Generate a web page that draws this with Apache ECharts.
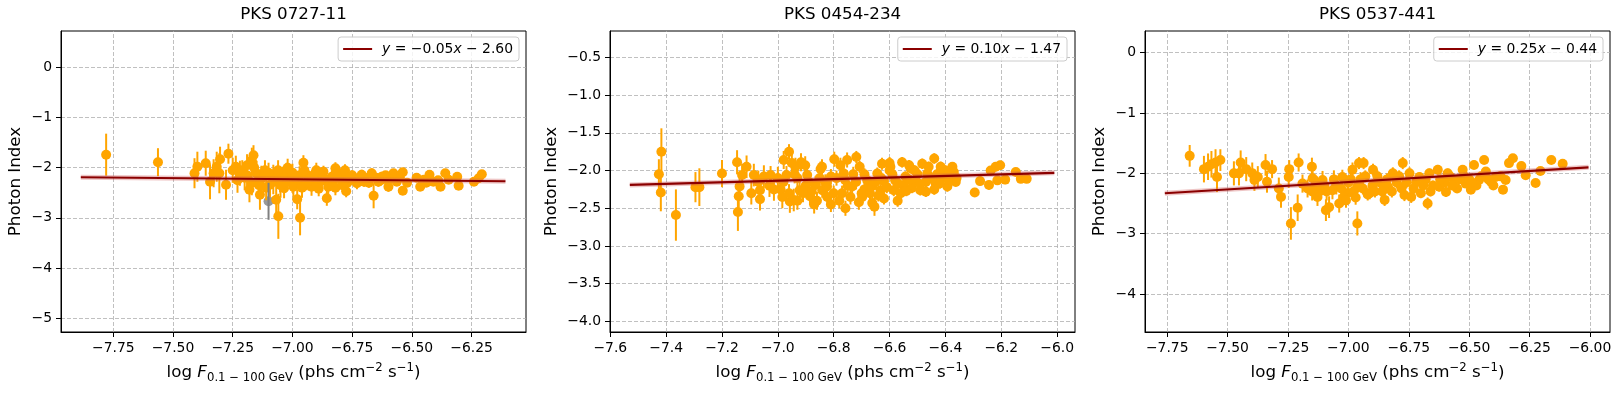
<!DOCTYPE html>
<html>
<head>
<meta charset="utf-8">
<title>Photon Index vs Flux</title>
<script src="https://cdn.jsdelivr.net/npm/echarts@6/dist/echarts.min.js"></script>
<style>
  html, body { margin: 0; padding: 0; background: #fff; }
  #chart { width: 1622px; height: 394px; }
</style>
</head>
<body>
<div id="chart"></div>
<script>
// panel titles
var sources = ['PKS 0727-11', 'PKS 0454-234', 'PKS 0537-441'];

// points: [log flux, photon index, error]
var pts0727 = [
  [-7.78,-1.74,0.42],[-7.563,-1.89,0.28],[-7.41,-2.11,0.3],[-7.398,-1.98,0.3],[-7.363,-1.91,0.25],
  [-7.345,-2.28,0.35],[-7.33,-2.11,0.28],[-7.317,-1.98,0.3],[-7.303,-1.83,0.25],[-7.306,-2.11,0.4],
  [-7.278,-2.34,0.3],[-7.268,-1.72,0.2],[-7.237,-1.98,0.22],[-7.22,-2.11,0.25],[-7.21,-2.05,0.2],
  [-7.19,-1.95,0.22],[-7.18,-2.44,0.25],[-7.17,-1.85,0.25],[-7.163,-1.75,0.2],[-7.15,-2.11,0.25],
  [-7.136,-2.54,0.3],[-7.13,-2.21,0.25],[-7.115,-2.05,0.2],[-7.094,-2.34,0.25],[-7.08,-2.14,0.2],
  [-7.068,-2.64,0.35],[-7.059,-2.97,0.45],[-7.052,-2.24,0.25],[-7.035,-2.41,0.2],[-7.024,-2.08,0.18],
  [-7.01,-2.21,0.2],[-6.996,-2.38,0.2],[-6.98,-2.63,0.2],[-6.968,-3.0,0.35],[-6.954,-1.90,0.15],
  [-6.94,-2.14,0.15],[-6.92,-2.24,0.15],[-6.905,-2.11,0.15],[-6.89,-2.31,0.15],[-6.87,-2.08,0.12],
  [-6.856,-2.61,0.15],[-6.85,-2.38,0.18],[-6.835,-2.18,0.12],[-6.82,-2.01,0.12],[-6.803,-2.21,0.12],
  [-6.786,-2.11,0.12],[-6.775,-2.47,0.12],[-6.74,-2.24,0.12],[-6.73,-2.31,0.12],[-6.71,-2.14,0.1],
  [-6.69,-2.21,0.1],[-6.668,-2.11,0.1],[-6.66,-2.56,0.25],[-6.64,-2.28,0.1],[-6.626,-2.18,0.1],
  [-6.598,-2.38,0.1],[-6.577,-2.11,0.08],[-6.563,-2.28,0.08],[-6.538,-2.09,0.08],[-6.538,-2.46,0.08],
  [-6.465,-2.38,0.07],[-6.45,-2.24,0.07],[-6.426,-2.14,0.07],[-6.41,-2.28,0.07],[-6.38,-2.38,0.07],
  [-6.36,-2.11,0.07],[-6.346,-2.24,0.07],[-6.31,-2.18,0.07],[-6.304,-2.36,0.07],[-6.24,-2.28,0.06],
  [-6.22,-2.21,0.06],[-6.207,-2.13,0.06],
  [-7.2,-2.2,0.25],[-7.17,-2.3,0.25],[-7.12,-2.18,0.2],[-7.08,-2.28,0.25],[-7.04,-2.18,0.2],
  [-7.0,-2.1,0.18],[-6.97,-2.28,0.18],[-6.93,-2.22,0.15],[-6.88,-2.15,0.15],[-6.84,-2.3,0.15],
  [-6.8,-2.18,0.12],[-6.77,-2.3,0.12],[-6.97,-2.15,0.18],[-6.9,-2.05,0.15],[-6.82,-2.4,0.15],
  [-7.06,-2.05,0.2],[-7.14,-2.35,0.25],[-6.76,-2.2,0.12],[-6.7,-2.28,0.1],[-6.65,-2.2,0.1],
  [-6.6,-2.25,0.1],[-6.57,-2.2,0.08],[-6.92,-2.38,0.18],[-7.0,-2.3,0.2],[-6.86,-2.25,0.15],
  [-6.95,-2.05,0.15],
  [-7.25,-2.05,0.25],[-7.23,-2.25,0.25],[-7.16,-2.0,0.2],[-7.11,-2.4,0.25],[-7.03,-2.3,0.2],
  [-7.02,-2.0,0.18],[-6.99,-2.2,0.18],[-6.96,-2.4,0.2],[-6.91,-2.15,0.15],[-6.89,-2.42,0.15],
  [-6.87,-2.2,0.15],[-6.83,-2.28,0.12],[-6.81,-2.1,0.12],[-6.79,-2.35,0.12],[-6.78,-2.05,0.12],
  [-6.75,-2.15,0.1],[-6.72,-2.2,0.1],[-6.68,-2.3,0.1],[-6.67,-2.18,0.1],[-6.63,-2.25,0.1],
  [-6.61,-2.15,0.08],[-6.55,-2.2,0.08],[-6.52,-2.3,0.08],[-6.48,-2.2,0.07],[-6.44,-2.3,0.07],
  [-6.39,-2.25,0.07],[-7.05,-2.35,0.25],[-7.1,-2.1,0.2],[-7.19,-2.15,0.25],[-6.94,-2.3,0.15]
];
var gray0727 = [[-7.10,-2.67,0.37]];

var pts0454 = [
  [-7.426,-2.05,0.2],[-7.417,-1.75,0.31],[-7.419,-2.29,0.25],[-7.365,-2.59,0.34],[-7.295,-2.22,0.2],
  [-7.281,-2.22,0.25],[-7.2,-2.04,0.18],[-7.146,-1.89,0.16],[-7.137,-2.21,0.15],[-7.14,-2.34,0.15],
  [-7.143,-2.55,0.25],[-7.128,-2.06,0.15],[-7.112,-1.95,0.15],[-7.095,-2.30,0.15],[-7.086,-2.06,0.15],
  [-7.064,-2.26,0.15],[-7.064,-2.38,0.15],[-7.05,-2.08,0.15],[-7.026,-2.06,0.12],[-7.014,-2.25,0.15],
  [-7.0,-2.1,0.15],[-6.99,-2.25,0.15],[-6.984,-2.35,0.15],[-6.979,-1.86,0.12],[-6.96,-1.75,0.1],
  [-6.969,-2.06,0.12],[-6.957,-2.41,0.15],[-6.943,-2.39,0.15],[-6.937,-1.95,0.12],[-6.922,-2.26,0.12],
  [-6.917,-1.89,0.12],[-6.902,-1.93,0.12],[-6.895,-2.06,0.12],[-6.885,-2.34,0.12],[-6.865,-2.19,0.12],
  [-6.847,-1.98,0.1],[-6.841,-2.26,0.1],[-6.823,-2.35,0.1],[-6.798,-1.85,0.1],[-6.842,-1.95,0.1],
  [-6.824,-2.21,0.1],[-6.776,-1.93,0.1],[-6.764,-2.04,0.1],[-6.752,-1.86,0.1],[-6.758,-2.5,0.1],
  [-6.734,-2.21,0.1],[-6.719,-1.82,0.08],[-6.707,-1.95,0.08],[-6.698,-2.35,0.1],[-6.68,-2.13,0.08],
  [-6.662,-2.43,0.1],[-6.654,-2.48,0.12],[-6.644,-2.04,0.08],[-6.632,-2.26,0.08],[-6.627,-1.91,0.08],
  [-6.62,-2.37,0.08],[-6.597,-1.95,0.08],[-6.585,-2.26,0.08],[-6.571,-2.40,0.08],[-6.555,-1.89,0.07],
  [-6.543,-2.08,0.07],[-6.525,-1.97,0.07],[-6.507,-2.13,0.07],[-6.49,-2.26,0.07],[-6.483,-1.91,0.07],
  [-6.465,-2.04,0.07],[-6.44,-1.84,0.07],[-6.435,-2.17,0.07],[-6.417,-1.95,0.07],[-6.41,-2.08,0.07],
  [-6.393,-2.21,0.07],[-6.375,-1.95,0.06],[-6.363,-2.15,0.06],[-6.295,-2.29,0.06],[-6.276,-2.14,0.06],
  [-6.244,-2.19,0.06],[-6.238,-2.0,0.06],[-6.22,-1.95,0.06],[-6.204,-1.93,0.06],[-6.214,-2.13,0.06],
  [-6.186,-2.12,0.06],[-6.148,-2.02,0.05],[-6.13,-2.11,0.05],[-6.109,-2.11,0.05],
  [-6.6,-2.0,0.08],[-6.55,-2.2,0.07],[-6.5,-2.05,0.07],[-6.47,-2.28,0.07],[-6.45,-2.1,0.07],
  [-6.42,-2.17,0.07],[-6.38,-2.05,0.06],[-6.36,-2.1,0.06],[-6.62,-2.14,0.08],[-6.7,-2.3,0.1],
  [-6.75,-2.2,0.1],[-6.78,-2.4,0.1],[-6.73,-2.05,0.1],[-6.66,-2.2,0.08],[-6.58,-2.13,0.08],
  [-6.52,-2.23,0.07],[-6.8,-2.3,0.1],[-6.86,-2.4,0.12],[-6.9,-2.2,0.12],[-6.93,-2.1,0.12],
  [-6.88,-2.28,0.12],[-6.81,-2.08,0.1],[-6.69,-2.25,0.08],[-6.64,-2.33,0.08],[-6.56,-2.3,0.07],
  [-6.53,-2.12,0.07],[-6.47,-2.15,0.07],[-6.4,-2.0,0.07],
  [-6.98,-2.15,0.12],[-6.96,-2.3,0.12],[-6.94,-2.05,0.12],[-6.91,-2.3,0.12],[-6.89,-2.15,0.12],
  [-6.87,-2.45,0.12],[-6.85,-2.1,0.1],[-6.83,-2.15,0.1],[-6.81,-2.45,0.1],[-6.79,-2.1,0.1],
  [-6.77,-2.3,0.1],[-6.76,-2.12,0.1],[-6.74,-2.35,0.1],[-6.72,-2.15,0.1],[-6.71,-2.42,0.1],
  [-6.69,-2.05,0.08],[-6.67,-2.3,0.08],[-6.65,-2.15,0.08],[-6.63,-2.1,0.08],[-6.61,-2.22,0.08],
  [-6.59,-2.05,0.08],[-6.57,-2.17,0.08],[-6.54,-2.27,0.07],[-6.51,-2.0,0.07],[-6.49,-2.18,0.07],
  [-6.46,-1.95,0.07],[-6.44,-2.25,0.07],[-6.43,-2.05,0.07],[-6.39,-2.12,0.07],[-6.37,-2.02,0.06],
  [-6.6,-1.9,0.08],[-6.53,-1.93,0.07],[-7.03,-2.2,0.15],[-7.07,-2.15,0.15],[-6.93,-2.4,0.12],
  [-6.95,-1.9,0.12]
];

var pts0537 = [
  [-7.657,-1.71,0.18],[-7.598,-1.93,0.22],[-7.581,-1.89,0.22],[-7.567,-1.85,0.22],[-7.55,-1.82,0.22],
  [-7.544,-2.06,0.25],[-7.53,-1.78,0.18],[-7.474,-2.0,0.2],[-7.453,-2.0,0.2],[-7.446,-1.82,0.2],
  [-7.423,-1.93,0.2],[-7.398,-2.0,0.18],[-7.389,-2.11,0.18],[-7.375,-2.06,0.18],[-7.343,-1.86,0.18],
  [-7.337,-2.14,0.18],[-7.316,-1.93,0.15],[-7.288,-2.25,0.18],[-7.279,-2.39,0.18],[-7.247,-2.06,0.18],
  [-7.245,-1.93,0.15],[-7.238,-2.83,0.27],[-7.21,-2.57,0.22],[-7.206,-1.82,0.15],[-7.19,-2.17,0.15],
  [-7.169,-2.25,0.15],[-7.151,-1.89,0.15],[-7.148,-2.08,0.15],[-7.128,-2.39,0.15],[-7.107,-2.11,0.15],
  [-7.093,-2.61,0.18],[-7.08,-2.56,0.18],[-7.066,-2.28,0.15],[-7.038,-2.5,0.15],[-7.025,-2.06,0.12],
  [-7.004,-2.33,0.12],[-6.983,-1.94,0.12],[-6.963,-2.83,0.2],[-6.956,-1.83,0.1],[-6.937,-1.83,0.1],
  [-6.898,-1.94,0.1],[-6.912,-2.33,0.1],[-6.85,-2.44,0.1],[-6.837,-2.22,0.1],[-6.816,-2.0,0.1],
  [-6.775,-1.83,0.1],[-6.768,-2.36,0.1],[-6.74,-2.39,0.1],[-6.747,-2.0,0.1],[-6.706,-2.06,0.08],
  [-6.7,-2.33,0.08],[-6.672,-2.5,0.1],[-6.665,-2.0,0.08],[-6.63,-1.94,0.08],[-6.624,-2.22,0.08],
  [-6.596,-2.31,0.08],[-6.589,-2.0,0.08],[-6.562,-2.11,0.07],[-6.527,-1.94,0.07],[-6.514,-2.17,0.07],
  [-6.493,-2.27,0.07],[-6.48,-1.86,0.07],[-6.459,-2.11,0.07],[-6.438,-1.78,0.06],[-6.431,-1.97,0.06],
  [-6.41,-2.14,0.06],[-6.39,-2.06,0.06],[-6.36,-2.27,0.06],[-6.349,-2.11,0.06],[-6.335,-1.83,0.06],
  [-6.319,-1.75,0.06],[-6.284,-1.88,0.05],[-6.266,-2.03,0.05],[-6.225,-2.16,0.05],[-6.205,-1.96,0.05],
  [-6.16,-1.78,0.05],[-6.113,-1.84,0.05],
  [-7.05,-2.2,0.15],[-7.0,-2.15,0.12],[-6.98,-2.3,0.12],[-6.95,-2.1,0.12],[-6.9,-2.2,0.1],
  [-6.88,-2.05,0.1],[-6.8,-2.15,0.1],[-6.78,-2.25,0.1],[-6.72,-2.15,0.08],[-6.68,-2.1,0.08],
  [-6.65,-2.2,0.08],[-6.6,-2.15,0.08],[-6.55,-2.25,0.07],[-6.52,-2.05,0.07],[-6.47,-2.2,0.07],
  [-6.42,-2.1,0.06],[-7.12,-2.3,0.15],[-7.02,-2.4,0.12],[-6.92,-2.35,0.1],[-6.86,-2.3,0.1],
  [-7.1,-2.2,0.15],[-6.96,-2.2,0.12],[-6.84,-2.1,0.1],[-6.58,-2.05,0.07],[-6.5,-2.1,0.07],
  [-7.15,-2.3,0.15],[-7.13,-2.2,0.15],[-7.09,-2.3,0.15],[-7.06,-2.1,0.15],[-7.03,-2.25,0.12],
  [-7.01,-2.45,0.12],[-6.99,-2.1,0.12],[-6.97,-2.4,0.12],[-6.94,-2.25,0.1],[-6.93,-2.05,0.1],
  [-6.89,-2.3,0.1],[-6.87,-2.15,0.1],[-6.82,-2.3,0.1],[-6.79,-2.05,0.1],[-6.76,-2.15,0.1],
  [-6.73,-2.25,0.08],[-6.69,-2.2,0.08],[-6.66,-2.3,0.08],[-6.62,-2.1,0.08],[-6.57,-2.2,0.07],
  [-6.54,-2.1,0.07],[-6.49,-2.15,0.07],[-6.45,-2.05,0.06],[-6.4,-2.2,0.06],[-6.37,-2.05,0.06]
];

// linear fits, end points
var fit0727 = [[-7.886,-2.19],[-6.108,-2.27]];
var fit0454 = [[-7.53,-2.19],[-6.01,-2.03]];
var fit0537 = [[-7.76,-2.33],[-6.006,-1.90]];
var fitLabels = ['y = −0.05x − 2.60', 'y = 0.10x − 1.47', 'y = 0.25x − 0.44'];

// axes
var xRanges = [[-7.969,-6.022],[-7.601,-5.936],[-7.842,-5.917]];
var yRanges = [[-5.28,0.73],[-4.14,-0.15],[-4.63,0.36]];
var xTicks = [
  [-7.75,-7.5,-7.25,-7.0,-6.75,-6.5,-6.25],
  [-7.6,-7.4,-7.2,-7.0,-6.8,-6.6,-6.4,-6.2,-6.0],
  [-7.75,-7.5,-7.25,-7.0,-6.75,-6.5,-6.25,-6.0]
];
var yTicks = [
  [0,-1,-2,-3,-4,-5],
  [-0.5,-1.0,-1.5,-2.0,-2.5,-3.0,-3.5,-4.0],
  [0,-1,-2,-3,-4]
];
var xDec = [2, 1, 2];
var yDec = [0, 1, 0];

var allPts = [pts0727, pts0454, pts0537];
var allFits = [fit0727, fit0454, fit0537];

// layout
var gridLeft = [61, 610, 1145];
var gridW = 465;
var legendRight = [1103, 555, 19];
var yNameGap = [37, 50, 37];

var FONT = 'DejaVu Sans';
var ORANGE = '#FFA500';

function fmt(v, d) {
  if (v === 0) return '0';
  return (v < 0 ? '\u2212' : '') + Math.abs(v).toFixed(d);
}

function errBar(color) {
  return function (params, api) {
    var x = api.value(0), y = api.value(1), e = api.value(2);
    var p1 = api.coord([x, y + e]);
    var p2 = api.coord([x, y - e]);
    return {
      type: 'line',
      shape: { x1: p1[0], y1: p1[1], x2: p2[0], y2: p2[1] },
      style: { stroke: color, lineWidth: 2 }
    };
  };
}

var option = {
  animation: false,
  backgroundColor: '#fff',
  title: [], grid: [], xAxis: [], yAxis: [], legend: [], series: []
};

for (let i = 0; i < 3; i++) {
  option.title.push({
    text: sources[i],
    left: gridLeft[i] + gridW / 2,
    textAlign: 'center',
    top: 6,
    padding: 0,
    textStyle: { fontFamily: FONT, fontSize: 16.7, fontWeight: 'normal', color: '#000' }
  });
  option.grid.push({
    left: gridLeft[i], top: 31, width: gridW, height: 301,
    show: true, borderColor: '#000', borderWidth: 1, backgroundColor: 'transparent'
  });
  option.xAxis.push({
    type: 'value', gridIndex: i, min: xRanges[i][0], max: xRanges[i][1],
    name: '{n|log }{it|F}{sub|0.1 \u2212 100 GeV}{n| (phs cm}{sup|\u22122}{n| s}{sup|\u22121}{n|)}',
    nameLocation: 'middle', nameGap: 30,
    nameTextStyle: {
      fontFamily: FONT, fontSize: 16.7, color: '#000',
      rich: {
        n: { fontFamily: FONT, fontSize: 16.7, lineHeight: 22, color: '#000' },
        it: { fontFamily: FONT, fontSize: 16.7, fontStyle: 'italic', lineHeight: 22, color: '#000' },
        sub: { fontFamily: FONT, fontSize: 11.7, lineHeight: 12, verticalAlign: 'bottom', color: '#000' },
        sup: { fontFamily: FONT, fontSize: 11.7, lineHeight: 12, verticalAlign: 'top', color: '#000' }
      }
    },
    axisLine: { show: true, onZero: false, lineStyle: { color: '#000', width: 1 } },
    axisTick: { show: true, length: 5, customValues: xTicks[i], lineStyle: { color: '#000' } },
    axisLabel: {
      customValues: xTicks[i], margin: 9, fontFamily: FONT, fontSize: 13.9, color: '#000',
      formatter: (function (d) { return function (v) { return fmt(v, d); }; })(xDec[i])
    },
    splitLine: { show: false }
  });
  option.yAxis.push({
    type: 'value', gridIndex: i, min: yRanges[i][0], max: yRanges[i][1],
    name: 'Photon Index', nameLocation: 'middle', nameRotate: 90, nameGap: yNameGap[i],
    nameTextStyle: { fontFamily: FONT, fontSize: 16.7, color: '#000' },
    axisLine: { show: true, onZero: false, lineStyle: { color: '#000', width: 1 } },
    axisTick: { show: true, length: 5, customValues: yTicks[i], lineStyle: { color: '#000' } },
    axisLabel: {
      customValues: yTicks[i], margin: 9, fontFamily: FONT, fontSize: 13.9, color: '#000',
      formatter: (function (d) { return function (v) { return fmt(v, d); }; })(yDec[i])
    },
    splitLine: { show: false }
  });
  option.legend.push({
    data: [fitLabels[i]],
    right: legendRight[i], top: 37,
    icon: 'rect', itemWidth: 29, itemHeight: 2,
    padding: [5, 6, 5, 5],
    backgroundColor: 'rgba(255,255,255,0.8)',
    borderColor: '#cccccc', borderWidth: 1, borderRadius: 3,
    selectedMode: false,
    formatter: function (name) { return name.replace(/([xy])/g, '{i|$1}'); },
    textStyle: {
      fontFamily: FONT, fontSize: 13.9, color: '#000', padding: [0, 0, 0, 5],
      rich: { i: { fontFamily: FONT, fontSize: 13.9, fontStyle: 'italic', color: '#000' } }
    }
  });

  // dashed grid lines
  option.series.push({
    type: 'line', xAxisIndex: i, yAxisIndex: i, data: [], silent: true, z: 0,
    markLine: {
      silent: true, symbol: 'none', z: 0, animation: false,
      label: { show: false },
      lineStyle: { color: '#b0b0b0', width: 0.8, type: [4, 2] },
      emphasis: { disabled: true },
      data: xTicks[i].map(function (v) { return { xAxis: v }; })
        .concat(yTicks[i].map(function (v) { return { yAxis: v }; }))
    }
  });
  if (i === 0) {
    // flagged point, mostly hidden under the orange ones
    option.series.push({
      type: 'scatter', xAxisIndex: 0, yAxisIndex: 0, data: gray0727, z: 1,
      encode: { x: 0, y: 1 }, symbolSize: 10, itemStyle: { color: '#808080' }, silent: true
    });
  }
  // error bars
  option.series.push({
    type: 'custom', xAxisIndex: i, yAxisIndex: i, data: allPts[i], z: 2,
    encode: { x: 0, y: 1 }, renderItem: errBar(ORANGE), silent: true
  });
  option.series.push({
    type: 'scatter', xAxisIndex: i, yAxisIndex: i, data: allPts[i], z: 3,
    encode: { x: 0, y: 1 }, symbol: 'circle', symbolSize: 10,
    itemStyle: { color: ORANGE, opacity: 1 }, silent: true
  });
  if (i === 0) {
    option.series.push({
      type: 'custom', xAxisIndex: 0, yAxisIndex: 0, data: gray0727, z: 4,
      encode: { x: 0, y: 1 }, renderItem: errBar('#808080'), silent: true
    });
  }
  // fit: confidence band look + line
  option.series.push({
    type: 'line', xAxisIndex: i, yAxisIndex: i, data: allFits[i], z: 5,
    symbol: 'none', silent: true,
    lineStyle: { width: 5, color: 'rgba(205,92,92,0.35)' }
  });
  option.series.push({
    type: 'line', name: fitLabels[i], xAxisIndex: i, yAxisIndex: i, data: allFits[i], z: 6,
    symbol: 'none', silent: true,
    lineStyle: { width: 2.2, color: '#8B0000' }, itemStyle: { color: '#8B0000' }
  });
}

var myChart = echarts.init(document.getElementById('chart'));
myChart.setOption(option);
</script>
</body>
</html>
